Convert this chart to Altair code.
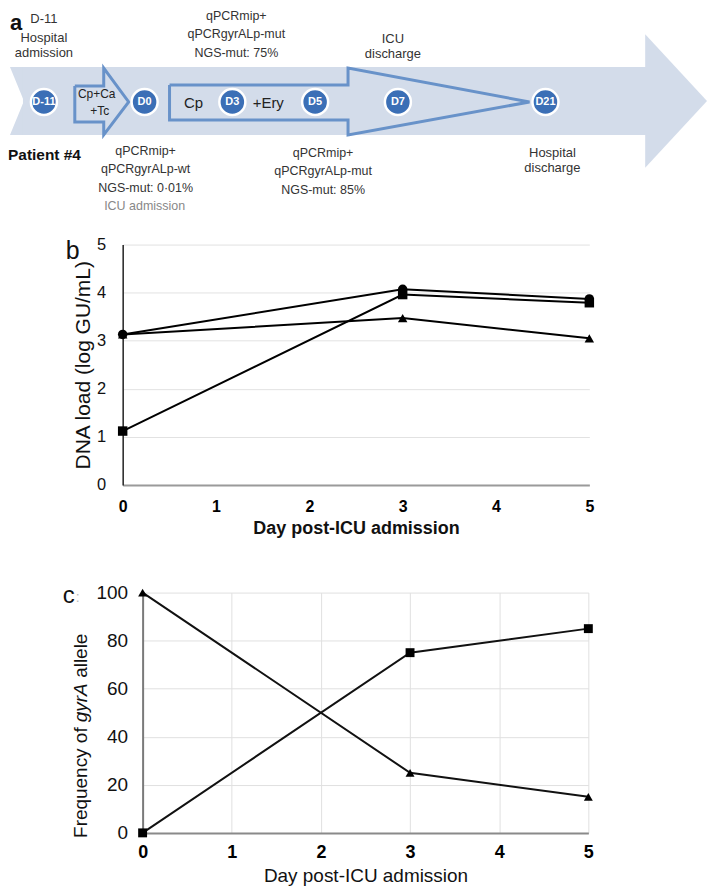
import altair as alt
import pandas as pd

FONT = "Liberation Sans"

# ---------------- Panel b : DNA load ----------------
days_b = [0, 3, 5]
load_circles = [3.13, 4.07, 3.87]
load_squares = [1.12, 3.96, 3.79]
load_triangles = [3.13, 3.47, 3.05]

# ---------------- Panel c : gyrA allele frequency ----------------
days_c = [0, 3, 5]
freq_squares = [0.01, 75, 85]
freq_triangles = [99.99, 25, 15]

# ---------------- Panel a : timeline diagram ----------------
tl_labels = ["D-11", "D0", "D3", "D5", "D7", "D21"]
tl_x = [42, 143, 231, 314, 397, 545]
tl_y = [101, 101, 101, 101, 101, 101]

# big background arrow, as area pieces (group, x, top, bottom)
big_arrow = [
    ("nt", 8, 66, 66), ("nt", 22, 66, 100),
    ("nb", 8, 134, 134), ("nb", 22, 100, 134),
    ("body", 21, 66, 134), ("body", 646, 66, 134),
    ("head", 645, 33, 167), ("head", 707, 100, 100),
]
# outlined arrows (x, y) vertices
arrow1 = [(73, 85), (102, 85), (102, 67), (127, 101), (102, 134), (102, 121), (73, 121), (73, 85)]
arrow2 = [(168, 84), (347, 84), (347, 67), (529, 101), (347, 134), (347, 119), (168, 119), (168, 84)]

# text notes: (text, x, y, size, colour)
notes = [
    ("D-11", 42, 18, 13, "#333333"),
    ("Hospital", 42, 37, 13, "#333333"),
    ("admission", 42, 52, 13, "#333333"),
    ("qPCRmip+", 235, 15, 12.5, "#333333"),
    ("qPCRgyrALp-mut", 235, 33, 12.5, "#333333"),
    ("NGS-mut: 75%", 235, 52, 12.5, "#333333"),
    ("ICU", 392, 38, 13, "#333333"),
    ("discharge", 392, 53, 13, "#333333"),
    ("Hospital", 552, 152, 13, "#333333"),
    ("discharge", 552, 167, 13, "#333333"),
    ("qPCRmip+", 144, 150, 12.5, "#333333"),
    ("qPCRgyrALp-wt", 144, 168, 12.5, "#333333"),
    ("NGS-mut: 0\u00b701%", 144, 187, 12.5, "#333333"),
    ("ICU admission", 143, 205, 12.5, "#888888"),
    ("qPCRmip+", 322, 152, 12.5, "#333333"),
    ("qPCRgyrALp-mut", 322, 170, 12.5, "#333333"),
    ("NGS-mut: 85%", 322, 189, 12.5, "#333333"),
    ("Cp+Ca", 95, 93, 12, "#222222"),
    ("+Tc", 98, 110, 12, "#222222"),
    ("Cp", 192, 102, 15, "#222222"),
    ("+Ery", 267, 102, 15, "#222222"),
]
bold_notes = [
    ("Patient #4", 6, 154, 15.5, "#111111"),
    ("a", 8, 22, 22, "#111111"),
]

one = pd.DataFrame({"k": [0]})

# ---------- Panel a ----------
ax_ = alt.X("x:Q", scale=alt.Scale(domain=[8, 708], nice=False, zero=False), axis=None)
ay_ = alt.Y("y:Q", scale=alt.Scale(domain=[8, 225], nice=False, zero=False, reverse=True), axis=None)

df_big = pd.DataFrame(big_arrow, columns=["g", "x", "y", "y2"])
big = alt.Chart(df_big).mark_area(color="#d3dcea", opacity=1, interpolate="linear").encode(
    x=ax_, y=ay_, y2="y2:Q", detail="g:N"
)

rows = []
for name, pts in (("a1", arrow1), ("a2", arrow2)):
    for i, (px, py) in enumerate(pts):
        rows.append((name, i, px, py))
df_out = pd.DataFrame(rows, columns=["s", "i", "x", "y"])
outline = alt.Chart(df_out).mark_line(color="#6892c9", strokeWidth=3, strokeJoin="miter").encode(
    x=ax_, y=ay_, detail="s:N", order="i:Q"
)

df_circ = pd.DataFrame({"t": tl_labels, "x": tl_x, "y": tl_y})
circles = alt.Chart(df_circ).mark_point(
    shape="circle", filled=True, size=680, fill="#3b6fb6", stroke="white", strokeWidth=2.5, opacity=1
).encode(x=ax_, y=ay_)
circ_text = alt.Chart(df_circ).mark_text(
    font=FONT, fontWeight="bold", fontSize=11, color="white", align="center", baseline="middle"
).encode(x=ax_, y=ay_, text="t:N")


def text_layer(rows, weight, align):
    df = pd.DataFrame(rows, columns=["t", "x", "y", "fs", "col"])
    return alt.Chart(df).mark_text(font=FONT, fontWeight=weight, align=align, baseline="middle").encode(
        x=ax_, y=ay_, text="t:N",
        size=alt.Size("fs:Q", scale=None, legend=None),
        color=alt.Color("col:N", scale=None, legend=None),
    )


panel_a = alt.layer(
    big, outline, circles, circ_text,
    text_layer(notes, "normal", "center"),
    text_layer(bold_notes, "bold", "left"),
).properties(width=700, height=217)


def anchor(xv, yv):
    return alt.Chart(one).mark_rule(color="white", strokeWidth=0.5).encode(
        x=alt.value(xv), y=alt.value(yv), y2=alt.value(yv + 1)
    )


def spacer():
    return anchor(0, 0).properties(width=1, height=1)


# ---------- Panel b ----------
dfb = pd.DataFrame({
    "day": days_b * 3,
    "v": load_circles + load_squares + load_triangles,
    "s": ["circle"] * 3 + ["square"] * 3 + ["triangle"] * 3,
})
bx = alt.X("day:Q", scale=alt.Scale(domain=[0, 5], nice=False, zero=False),
           axis=alt.Axis(values=[0, 1, 2, 3, 4, 5], format="d", title="Day post-ICU admission",
                         grid=False, ticks=False, tickSize=0, labelFlush=False,
                         labelFontSize=16, labelFontWeight="bold", labelPadding=14, labelColor="black",
                         titleFontSize=18, titleFontWeight="bold", titleColor="#111111", titlePadding=5,
                         domainColor="#9a9a9a", domainWidth=2))
by = alt.Y("v:Q", scale=alt.Scale(domain=[0, 5], nice=False),
           axis=alt.Axis(values=[0, 1, 2, 3, 4, 5], format="d", title="DNA load (log GU/mL)",
                         grid=True, gridColor="#e2e2e2", gridWidth=1, ticks=False, tickSize=0,
                         labelFontSize=16.5, labelPadding=17, labelColor="#111111",
                         titleFontSize=21, titleFontWeight="normal", titleColor="#111111", titlePadding=3,
                         domainColor="#222222", domainWidth=1.5))
shape_scale = alt.Scale(domain=["circle", "square", "triangle"], range=["circle", "square", "triangle-up"])
b_lines = alt.Chart(dfb).mark_line(color="black", strokeWidth=2).encode(x=bx, y=by, detail="s:N")
b_pts = alt.Chart(dfb).mark_point(filled=True, color="black", opacity=1, size=90).encode(
    x=bx, y=by, shape=alt.Shape("s:N", scale=shape_scale, legend=None)
)
b_letter = alt.Chart(one).mark_text(text="b", font=FONT, fontSize=25, color="#111111",
                                    align="left", baseline="alphabetic").encode(
    x=alt.value(-57), y=alt.value(14))
panel_b = alt.layer(b_lines, b_pts, b_letter, anchor(-111, -18), anchor(0, 302)).properties(
    width=468, height=241)

# ---------- Panel c ----------
dfc = pd.DataFrame({
    "day": days_c * 2,
    "v": freq_squares + freq_triangles,
    "s": ["square"] * 3 + ["triangle"] * 3,
})
cx = alt.X("day:Q", scale=alt.Scale(domain=[0, 5], nice=False, zero=False),
           axis=alt.Axis(values=[0, 1, 2, 3, 4, 5], format="d", title="Day post-ICU admission",
                         grid=True, gridColor="#e0e0e0", gridWidth=1, ticks=False, tickSize=0,
                         labelFlush=False,
                         labelFontSize=18, labelFontWeight="bold", labelPadding=11, labelColor="black",
                         titleFontSize=19, titleFontWeight="normal", titleColor="#111111", titlePadding=5,
                         domainColor="#8a8a8a", domainWidth=2))
cy = alt.Y("v:Q", scale=alt.Scale(domain=[0, 100], nice=False),
           axis=alt.Axis(values=[0, 20, 40, 60, 80, 100], format="d", title=None,
                         grid=True, gridColor="#e0e0e0", gridWidth=1, ticks=False, tickSize=0,
                         labelFontSize=19, labelPadding=15, labelColor="#111111",
                         domainColor="#7a7a7a", domainWidth=2))
c_lines = alt.Chart(dfc).mark_line(color="#111111", strokeWidth=2).encode(x=cx, y=cy, detail="s:N")
c_pts = alt.Chart(dfc).mark_point(filled=True, color="black", opacity=1, size=80).encode(
    x=cx, y=cy, shape=alt.Shape("s:N", scale=shape_scale, legend=None)
)


def ctext(txt, yv, style="normal"):
    return alt.Chart(one).mark_text(text=txt, font=FONT, fontSize=19, fontStyle=style, color="#111111",
                                    angle=270, align="left", baseline="middle").encode(
        x=alt.value(-62), y=alt.value(yv))


c_title = [ctext("Frequency of", 246), ctext("gyrA", 130, "italic"), ctext("allele", 85.5)]
c_letter = alt.Chart(one).mark_text(text="c", font=FONT, fontSize=24, color="#111111",
                                    align="left", baseline="alphabetic").encode(
    x=alt.value(-80), y=alt.value(10))
c_colon = alt.Chart(one).mark_text(text=":", font=FONT, fontSize=14, color="#bbbbbb",
                                   align="left", baseline="alphabetic").encode(
    x=alt.value(-67), y=alt.value(9))
panel_c = alt.layer(c_lines, c_pts, *c_title, c_letter, c_colon, anchor(-131, -44)).properties(
    width=447, height=241)

chart = alt.vconcat(
    panel_a,
    alt.hconcat(spacer(), panel_b, spacing=0),
    alt.hconcat(spacer(), panel_c, spacing=0),
    spacing=0,
).properties(
    padding=0, background="white"
).configure_view(stroke=None).configure_axis(labelFont=FONT, titleFont=FONT)

chart.save("out.html", embed_options={"renderer": "svg", "actions": False})
